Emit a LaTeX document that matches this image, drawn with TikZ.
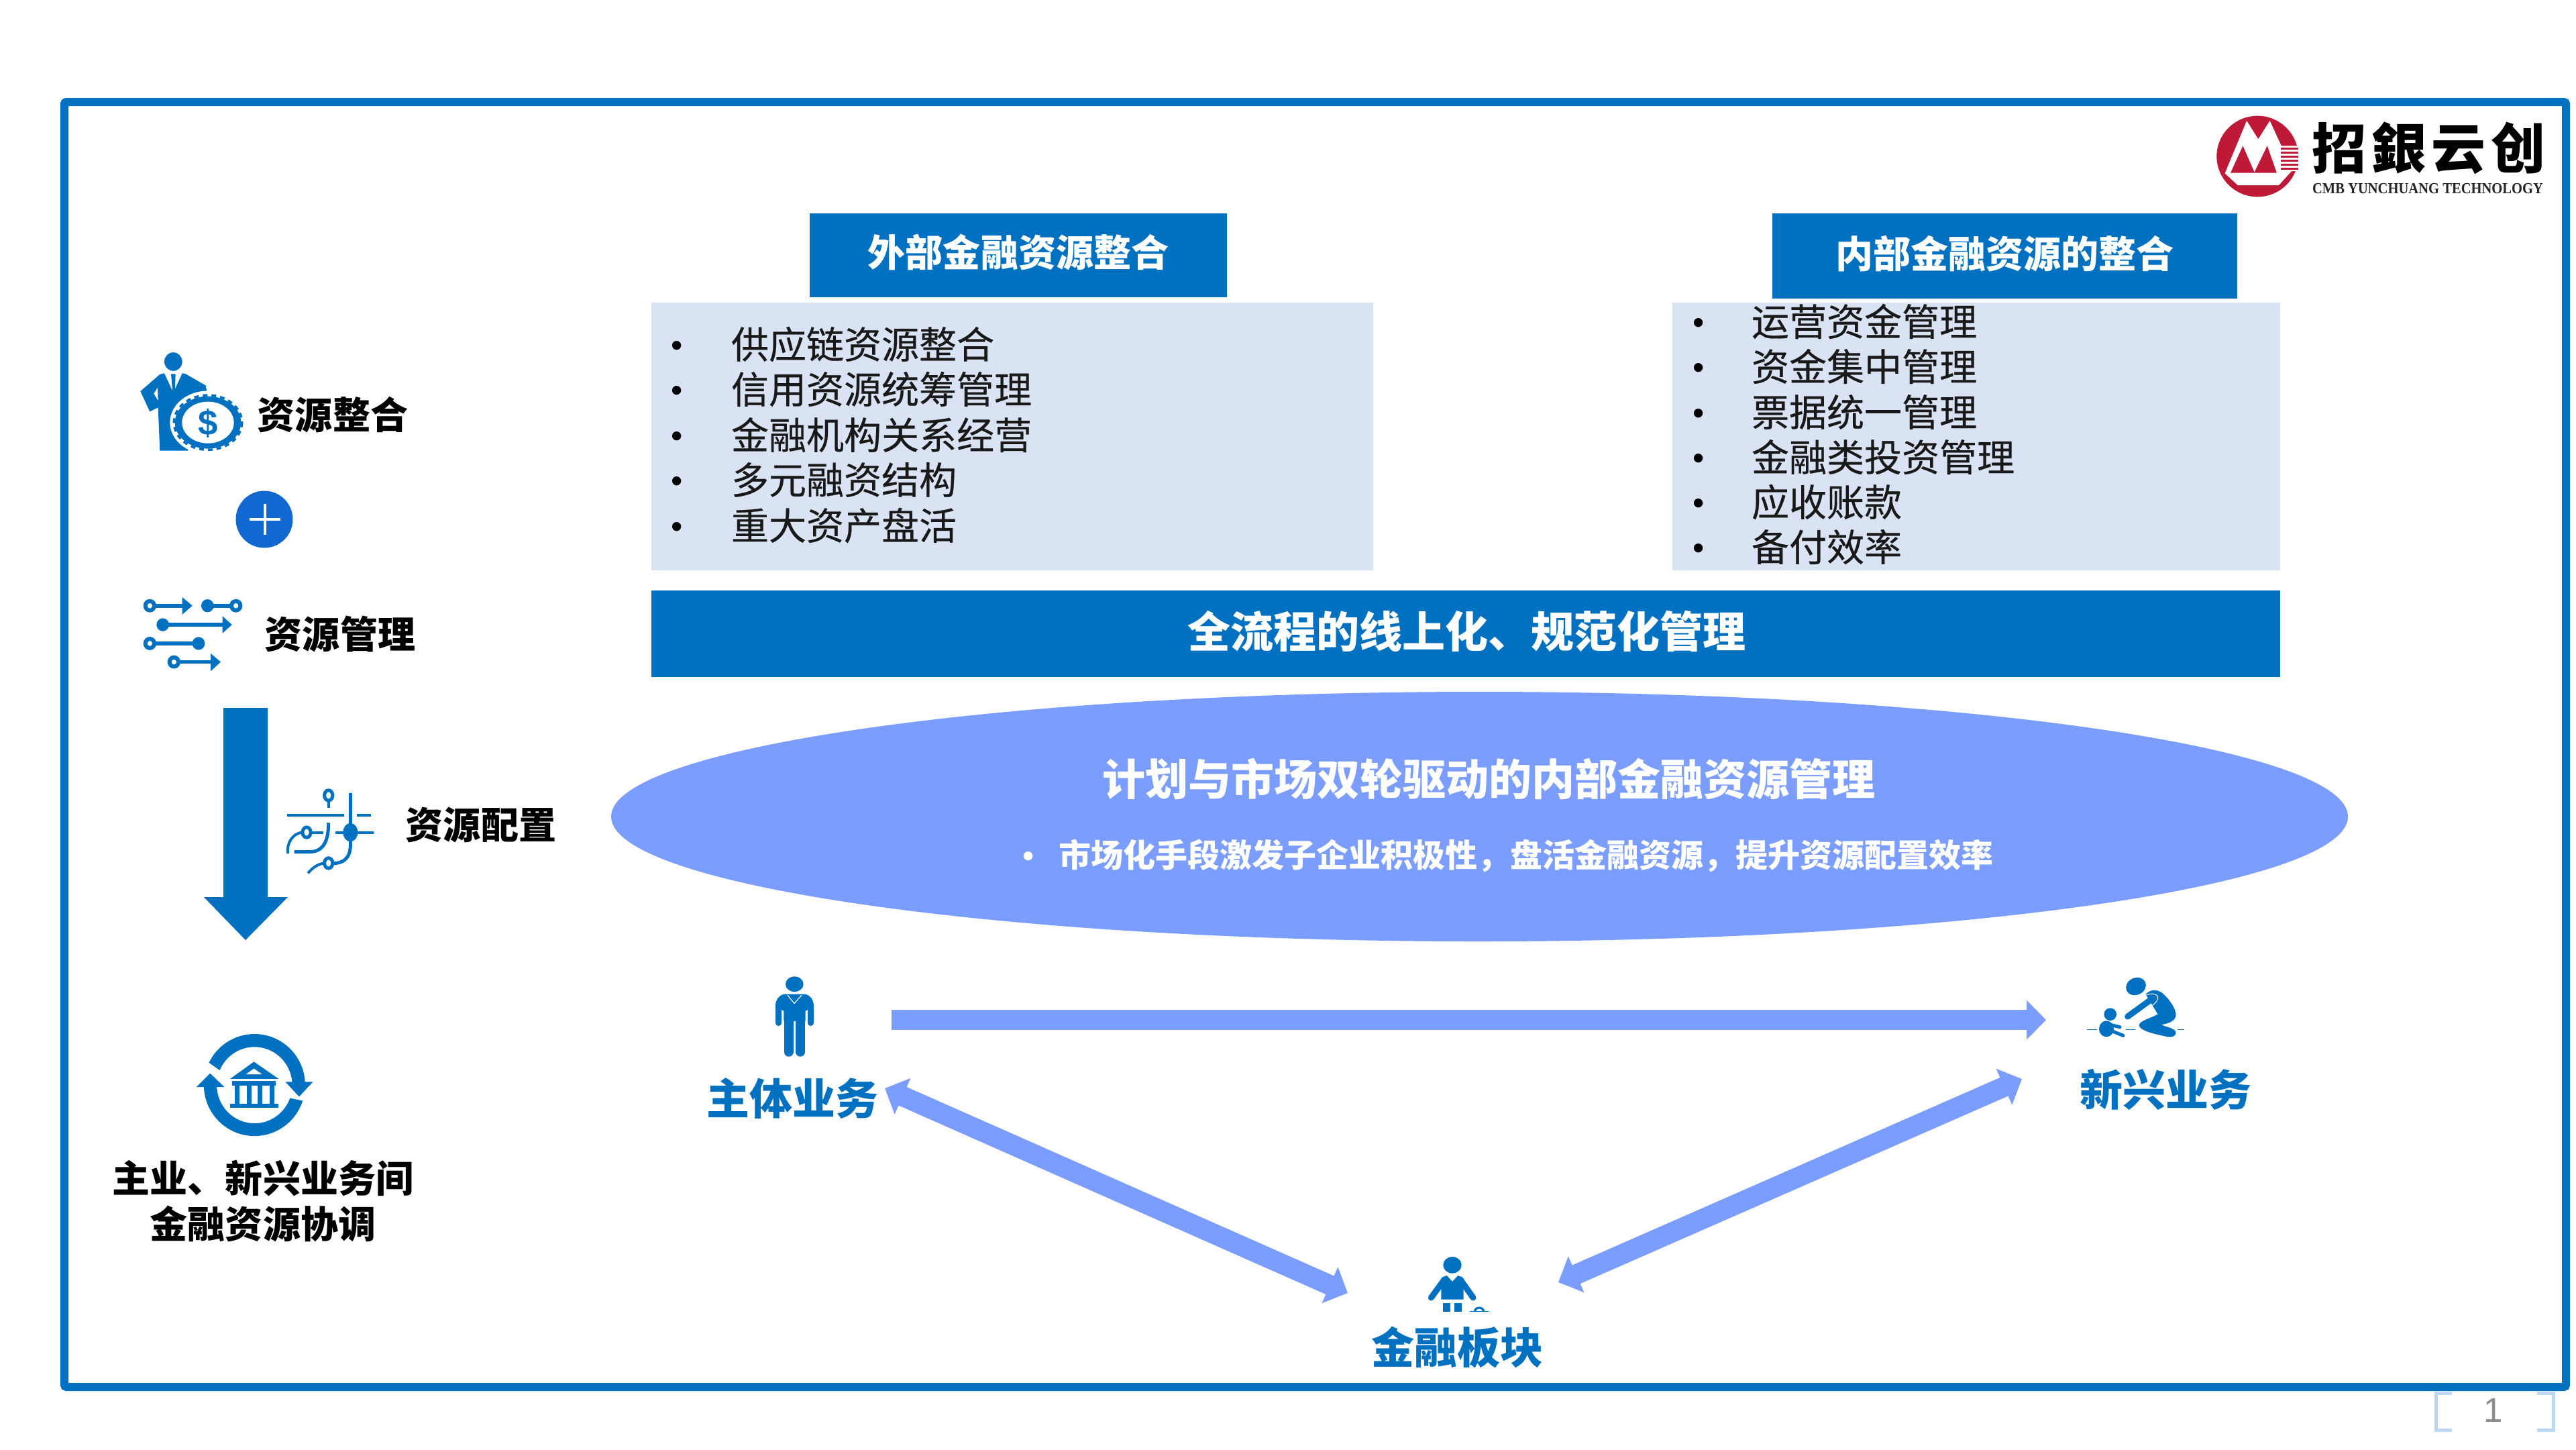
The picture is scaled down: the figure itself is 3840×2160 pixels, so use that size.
\documentclass[tikz,border=0pt]{standalone}
\usepackage{fontspec}
\setmainfont{Noto Sans CJK SC}
\newfontfamily\cjkmed[FakeBold=0.35]{Noto Sans CJK SC}
\newfontfamily\latserif{Liberation Serif}
\newfontfamily\latsans{Liberation Sans}
\usetikzlibrary{arrows.meta}
\definecolor{mainblue}{HTML}{0070C0}
\definecolor{plusblue}{HTML}{1068D0}
\definecolor{lightbox}{HTML}{DAE3F3}
\definecolor{periw}{HTML}{7A9DFF}
\definecolor{logored}{HTML}{BE1A38}
\definecolor{brk}{HTML}{BDD7F3}
\def\pxu{0.28453pt}
\tikzset{
  x=0.01cm,y=-0.01cm,
  txt/.style={inner sep=0,outer sep=0,align=center},
  fA/.style={font=\fontsize{15.93pt}{19.2pt}\selectfont\bfseries},
  fB/.style={font=\fontsize{18.2pt}{22pt}\selectfont\bfseries},
  fC/.style={font=\fontsize{13.66pt}{16pt}\selectfont\bfseries},
  fL/.style={font=\fontsize{15.93pt}{19pt}\selectfont\cjkmed},
  hdr/.style={txt,fA,text=white},
  hbox/.style={fill=mainblue,inner sep=0},
  item/.style={txt,fL,anchor=west,text=black!90},
  dotitem/.style={txt,anchor=base,font=\fontsize{14pt}{16pt}\selectfont\latsans,text=black},
  lab/.style={txt,fA,text=black},
  biz/.style={txt,fB,text=mainblue},
  flow/.style={periw,line width=30*\pxu},
  dbl/.style={flow,{Triangle[length=29*\pxu,width=57*\pxu]}-{Triangle[length=29*\pxu,width=57*\pxu]}},
  sgl/.style={flow,-{Triangle[length=29*\pxu,width=57*\pxu]}},
  ic/.style={mainblue,line cap=round},
}
\begin{document}
\begin{tikzpicture}
\useasboundingbox (0,0) rectangle (3840,2160);
\fill[white] (0,0) rectangle (3840,2160);
% frame
\draw[mainblue,line width=12*\pxu,rounded corners=3*\pxu] (96,152) rectangle (3825,2067);
% page number
\draw[brk,line width=5*\pxu] (3655,2076) -- (3631,2076) -- (3631,2131) -- (3655,2131);
\draw[brk,line width=5*\pxu] (3782,2076) -- (3806,2076) -- (3806,2131) -- (3782,2131);
\node[txt,font=\fontsize{14.5pt}{16pt}\selectfont\latsans,text=black!45] (pnum) at (3717,2102) {1};
% logo
\begin{scope}[shift={(3240,130)},xscale=1/2.613,yscale=1/3]
\fill[logored] (327,309) ellipse[x radius=159,y radius=181];
\fill[white] (200,385) -- (285,150) -- (330,232) -- (375,150) -- (420,262) -- (487,262) -- (487,375) -- (460,375) -- (410,438) -- (250,438) -- cycle;
\fill[logored] (222,383) -- (270,262) -- (315,380) -- (365,262) -- (402,383) -- cycle;
\foreach \yy in {270,288,306,324,342,360}
  \fill[logored] (418,\yy) rectangle (486,\yy+8);
\end{scope}
\node[txt,font=\fontsize{23pt}{26pt}\selectfont\bfseries,text=black] (lgcn) at (3620,221) {招\hspace{0.1em}銀\hspace{0.1em}云\hspace{0.1em}创};
\node[txt,xscale=0.9,font=\fontsize{6.5pt}{8pt}\selectfont\latserif\bfseries,text=black!85] (lgen) at (3619,281) {CMB YUNCHUANG TECHNOLOGY};
% top boxes
\fill[lightbox] (971,451) rectangle (2047,850);
\fill[lightbox] (2493,451) rectangle (3399,850);
\node[hbox,minimum width=622*0.01cm,minimum height=125*0.01cm] (h1) at (1518,380.5) {};
\node[hbox,minimum width=693*0.01cm,minimum height=127*0.01cm] (h2) at (2988.5,381.5) {};
\node[hdr] (h1t) at (1518,376) {外部金融资源整合};
\node[hdr] (h2t) at (2988.5,378) {内部金融资源的整合};
\foreach \t/\yy [count=\i] in {供应链资源整合/513,信用资源统筹管理/580,金融机构关系经营/648,多元融资结构/715,重大资产盘活/783}{
  \node[dotitem] (la\i) at (1009,\yy+18) {•};
  \node[item] (lt\i) at (1090,\yy) {\t};
}
\foreach \t/\yy [count=\i] in {运营资金管理/479,资金集中管理/546,票据统一管理/614,金融类投资管理/681,应收账款/748,备付效率/815}{
  \node[dotitem] (ra\i) at (2532,\yy+18) {•};
  \node[item] (rt\i) at (2611,\yy) {\t};
}
% bar
\node[hbox,minimum width=2428*0.01cm,minimum height=129*0.01cm] (bar) at (2185,944.5) {};
\node[txt,fB,text=white] (bart) at (2186,941) {全流程的线上化、规范化管理};
% ellipse
\fill[periw] (2205.5,1217) ellipse[x radius=1294.5,y radius=186];
\node[txt,fB,text=white] (et) at (2219,1161) {计划与市场双轮驱动的内部金融资源管理};
\node[txt,fC,text=white] (ed) at (2275,1275) {市场化手段激发子企业积极性，盘活金融资源，提升资源配置效率};
\node[dotitem,text=white] (eb) at (1533,1292) {•};
% left labels
\node[lab] (l1) at (496,618) {资源整合};
\node[lab] (l2) at (507,945) {资源管理};
\node[lab] (l3) at (717,1229) {资源配置};
\node[lab,font=\fontsize{15.93pt}{19.4pt}\selectfont\bfseries] (l4) at (392,1790) {主业、新兴业务间\\金融资源协调};
% plus
\node[circle,fill=plusblue,minimum size=85*0.01cm,inner sep=0] (plus) at (394,774) {};
\fill[white] (372,771.5) rectangle (418,775.5);
\fill[white] (393,751) rectangle (397,797);
% down arrow
\fill[mainblue] (333,1055) -- (399,1055) -- (399,1337) -- (429,1337) -- (366,1401) -- (304,1337) -- (333,1337) -- cycle;
% suit + coin icon
\begin{scope}[shift={(170,490)},xscale=1/3,yscale=1/2.9]
\fill[ic] (265,142) circle[radius=40];
\fill[ic] (225,192) -- (205,197) -- (118,270) -- (160,358) -- (197,340) -- (205,527) -- (330,527) -- (420,300) -- (410,245) -- (320,195) -- (305,192) -- cycle;
\fill[white] (225,192) -- (265,275) -- (305,192) -- cycle;
\fill[ic] (255,195) -- (275,195) -- (272,275) -- (262,275) -- cycle;
\fill[white] (195,255) -- (178,280) -- (197,310) -- cycle;
\fill[white] (420,405) ellipse[x radius=170,y radius=137];
\fill[ic] (420,405) ellipse[x radius=148,y radius=113];
\draw[mainblue,line width=3.5*\pxu,dash pattern=on 7*\pxu off 6*\pxu] (420,405) ellipse[x radius=152,y radius=118];
\fill[white] (420,405) ellipse[x radius=116,y radius=90];
\node[txt,font=\fontsize{15pt}{16pt}\selectfont\latsans\bfseries,text=mainblue] (dollar) at (420,408) {\$};
\end{scope}
% flow icon
\begin{scope}[shift={(170,490)},xscale=1/3,yscale=1/2.9]
\tikzset{ln/.style={mainblue,line width=5.5*\pxu}}
\tikzset{holl/.style={mainblue,line width=6*\pxu,fill=white}}
\draw[ln] (160,1197) -- (310,1197);
\fill[ic] (305,1160) -- (350,1197) -- (305,1235) -- cycle;
\draw[ln] (418,1197) -- (545,1197);
\fill[ic] (418,1197) circle[radius=28];
\draw[holl] (160,1197) circle[radius=20];
\draw[holl] (545,1197) circle[radius=20];
\draw[ln] (218,1279) -- (490,1279);
\fill[ic] (218,1279) circle[radius=28];
\fill[ic] (485,1242) -- (527,1279) -- (485,1316) -- cycle;
\draw[ln] (160,1360) -- (378,1360);
\fill[ic] (378,1360) circle[radius=28];
\draw[holl] (160,1360) circle[radius=20];
\draw[ln] (268,1440) -- (438,1440);
\draw[holl] (268,1440) circle[radius=20];
\fill[ic] (432,1403) -- (477,1440) -- (432,1480) -- cycle;
\end{scope}
% circuit icon
\begin{scope}[shift={(253,1040)},xscale=1/2.45,yscale=1/1.96]
\tikzset{cl/.style={mainblue,line width=4*\pxu}}
\draw[cl] (428,343) -- (637,343) (683,343) -- (735,343);
\draw[cl,line width=5*\pxu] (580,285) circle[radius=15];
\draw[cl] (580,300) -- (580,322);
\draw[cl,line width=5*\pxu] (660,278) -- (660,430) .. controls (660,470) and (630,485) .. (595,483);
\draw[cl] (565,483) .. controls (540,485) and (520,498) .. (505,512);
\draw[cl,line width=5*\pxu] (580,483) circle[radius=15];
\draw[cl] (605,393) -- (745,393);
\fill[ic] (660,393) circle[radius=27];
\draw[cl,line width=5*\pxu] (500,393) circle[radius=15];
\draw[cl] (515,393) -- (560,393);
\draw[cl] (485,393) .. controls (450,395) and (425,425) .. (432,455);
\draw[cl,line width=5*\pxu] (455,450) -- (510,450) .. controls (560,450) and (580,420) .. (580,365);
\end{scope}
% bank icon
\begin{scope}[shift={(250,1040)},xscale=1/2.45,yscale=1/1.96]
\def\cx{317}\def\cy{1131}
\fill[ic,line cap=butt] (\cx,\cy) ++(-154:185 and 149) arc[start angle=-154,end angle=-2,x radius=185,y radius=149] -- ++(-47,2) arc[start angle=-2,end angle=-157,x radius=138,y radius=112] -- cycle;
\fill[ic] (430,1122) -- (530,1122) -- (480,1165) -- cycle;
\fill[ic] (\cx,\cy) ++(18:185 and 149) arc[start angle=18,end angle=180,x radius=185,y radius=149] -- ++(47,0) arc[start angle=180,end angle=20,x radius=138,y radius=112] -- cycle;
\fill[ic] (105,1137) -- (207,1137) -- (155,1097) -- cycle;
\fill[ic] (315,1063) -- (405,1113) -- (228,1113) -- cycle;
\fill[white] (315,1083) -- (345,1100) -- (285,1100) -- cycle;
\fill[ic] (235,1120) rectangle (395,1132);
\foreach \xx in {245,290,328,372} \fill[ic] (\xx,1132) rectangle (\xx+17,1185);
\fill[ic] (228,1185) rectangle (405,1197);
\end{scope}
% person: main business
\begin{scope}[shift={(1000,1420)},xscale=1/3,yscale=1/3]
\fill[ic] (553,140) ellipse[x radius=40,y radius=34];
\fill[ic] (467,240) .. controls (470,205) and (485,190) .. (505,185) -- (602,185) .. controls (622,190) and (637,205) .. (640,240) -- (602,260) -- (602,305) -- (505,305) -- (505,260) -- cycle;
\draw[mainblue,line width=9.3*\pxu,line cap=round] (481,235) -- (481,313) (626,235) -- (626,313);
\draw[mainblue,line width=14*\pxu,line cap=round] (527,300) -- (527,443);
\draw[mainblue,line width=14*\pxu,line cap=round] (579,300) -- (579,443);
\fill[ic] (506,270) rectangle (601,305);
\draw[white,line width=1.2*\pxu] (522,190) -- (552,226) -- (585,190);
\end{scope}
% kneeling adult + child
\begin{scope}[shift={(2950,1420)},xscale=1/3,yscale=1/3]
\fill[ic,rotate around={25:(702,150)}] (702,150) ellipse[x radius=46,y radius=38];
\fill[ic] (745,185) .. controls (770,160) and (800,165) .. (820,180) .. controls (860,215) and (885,260) .. (880,285) .. controls (870,310) and (845,315) .. (815,322) .. controls (850,335) and (885,340) .. (880,362) .. controls (870,385) and (840,375) .. (810,368) .. controls (770,360) and (720,345) .. (716,325) .. controls (716,305) and (760,295) .. (800,275) -- cycle;
\draw[white,line width=1*\pxu] (745,190) .. controls (765,180) and (790,180) .. (800,195) .. controls (800,215) and (790,225) .. (775,235);
\draw[mainblue,line width=9*\pxu,line cap=round] (775,205) -- (665,285);
\fill[ic] (587,275) circle[radius=28];
\fill[ic] (570,340) ellipse[x radius=33,y radius=36];
\draw[mainblue,line width=5*\pxu,line cap=round] (580,320) -- (630,332);
\draw[mainblue,line width=5*\pxu,line cap=round] (590,348) -- (645,370);
\draw[mainblue,line width=1.2*\pxu] (483,344) -- (527,344) (658,344) -- (698,344) (888,344) -- (917,344);
\end{scope}
% finance person
\begin{scope}[shift={(1950,1830)},xscale=1/3,yscale=1/3]
\fill[ic] (645,166) ellipse[x radius=41,y radius=37];
\fill[ic] (595,225) -- (620,213) -- (645,240) -- (670,213) -- (695,225) -- (695,320) -- (595,320) -- cycle;
\draw[mainblue,line width=9*\pxu,line cap=round] (610,230) -- (550,312) (680,230) -- (738,312);
\fill[ic] (604,335) rectangle (635,374);
\fill[ic] (654,335) rectangle (686,374);
\fill[ic] (740,374) .. controls (742,345) and (788,345) .. (790,374) -- cycle;
\fill[white] (750,374) .. controls (752,358) and (778,358) .. (780,374) -- cycle;
\draw[mainblue,line width=1*\pxu] (722,374) -- (806,374);
\end{scope}
% business labels
\node[biz] (zt) at (1181,1637) {主体业务};
\node[biz] (xx) at (3228,1624) {新兴业务};
\node[biz] (jr) at (2172,2008) {金融板块};
% flow arrows
\coordinate (aS) at (1329,1520);
\coordinate (aE) at (3050,1520);
\coordinate (bA) at (1319,1622);
\coordinate (bB) at (2009,1927);
\coordinate (cA) at (2323,1911);
\coordinate (cB) at (3014,1608);
\draw[sgl] (aS) -- (aE);
\draw[dbl] (bA) -- (bB);
\draw[dbl] (cA) -- (cB);
\end{tikzpicture}
\end{document}
